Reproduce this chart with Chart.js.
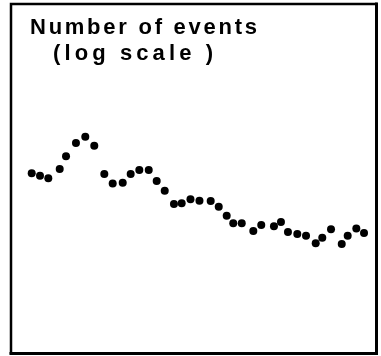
<!DOCTYPE html>
<html>
<head>
<meta charset="utf-8">
<script src="https://cdn.jsdelivr.net/npm/chart.js@4.4.1/dist/chart.umd.min.js"></script>
<style>
  html, body { margin: 0; padding: 0; background: #fff; }
  #wrap { width: 381px; height: 356px; position: relative; }
</style>
</head>
<body>
<div id="wrap"><canvas id="c" width="381" height="356"></canvas></div>
<script>
// Time position of each observation (arbitrary period units)
const periods = [2.28, 3.24, 4.20, 5.52, 6.25, 7.40, 8.48, 9.52, 10.68, 11.65,
  12.81, 13.73, 14.73, 15.82, 16.74, 17.67, 18.74, 19.63, 20.65, 21.69,
  22.99, 23.92, 24.84, 25.60, 26.58, 27.92, 28.84, 30.31, 31.12, 31.93,
  33.01, 34.02, 35.14, 35.90, 36.91, 38.15, 38.84, 39.84, 40.73];

// Number of events per period
const events = [35.1, 33.4, 31.8, 38.2, 49.2, 64.1, 72.7, 60.8, 34.6, 28.6,
  29.1, 34.6, 37.5, 37.5, 30.1, 24.8, 19.0, 19.3, 20.9, 20.3,
  20.2, 18.0, 15.1, 13.0, 13.0, 11.1, 12.5, 12.2, 13.3, 10.9,
  10.5, 10.1, 8.7, 9.7, 11.5, 8.6, 10.1, 11.7, 10.7];

const titleLines = ['Number of events', '(log scale )'];

const points = periods.map((p, i) => ({ x: p, y: events[i] }));

// Frame around the plotting area
const framePlugin = {
  id: 'frame',
  afterDraw(chart) {
    const { ctx, chartArea: a } = chart;
    ctx.save();
    ctx.strokeStyle = '#000';
    ctx.lineCap = 'square';
    ctx.lineWidth = 2.5;
    ctx.beginPath();
    ctx.moveTo(a.left - 1, a.bottom + 1);
    ctx.lineTo(a.left - 1, a.top - 1);
    ctx.lineTo(a.right + 1, a.top - 1);
    ctx.stroke();
    ctx.lineWidth = 3;
    ctx.beginPath();
    ctx.moveTo(a.right + 1.5, a.top - 1);
    ctx.lineTo(a.right + 1.5, a.bottom + 1.5);
    ctx.lineTo(a.left - 1, a.bottom + 1.5);
    ctx.stroke();
    ctx.restore();
  }
};

// Two-line caption set inside the frame, widely letter-spaced
const captionPlugin = {
  id: 'caption',
  afterDraw(chart) {
    const { ctx, chartArea: a } = chart;
    ctx.save();
    ctx.fillStyle = '#000';
    ctx.font = 'bold 22px "Liberation Sans", Arial, sans-serif';
    ctx.textAlign = 'left';
    ctx.textBaseline = 'alphabetic';
    const specs = [
      { text: titleLines[0], x: a.left + 18, y: a.top + 29, width: 227 },
      { text: titleLines[1], x: a.left + 41, y: a.top + 55, width: 160 }
    ];
    specs.forEach(s => {
      ctx.letterSpacing = '0px';
      const w = ctx.measureText(s.text).width;
      const ls = (s.width - w) / (s.text.length - 1);
      ctx.letterSpacing = ls + 'px';
      ctx.fillText(s.text, s.x, s.y);
    });
    ctx.restore();
  }
};

new Chart(document.getElementById('c'), {
  type: 'scatter',
  data: {
    datasets: [{
      data: points,
      pointRadius: 4,
      pointHoverRadius: 4,
      pointBackgroundColor: '#000',
      pointBorderColor: '#000',
      pointBorderWidth: 0
    }]
  },
  options: {
    responsive: false,
    animation: false,
    layout: { padding: { left: 12, top: 5, right: 6, bottom: 4 } },
    plugins: { legend: { display: false }, tooltip: { enabled: false }, title: { display: false } },
    scales: {
      x: { type: 'linear', min: 0, max: 42, display: false },
      y: { type: 'logarithmic', min: 1, max: 1000, display: false }
    }
  },
  plugins: [framePlugin, captionPlugin]
});
</script>
</body>
</html>
